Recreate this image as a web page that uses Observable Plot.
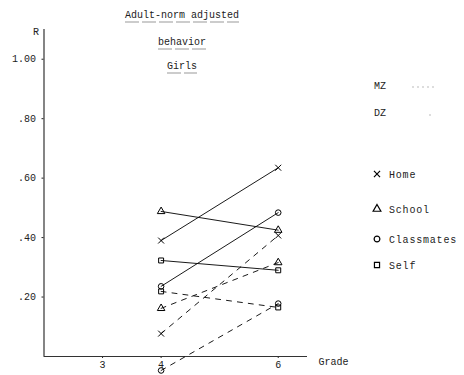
<!DOCTYPE html>
<html>
<head>
<meta charset="utf-8">
<script src="https://cdn.jsdelivr.net/npm/d3@7"></script>
<script src="https://cdn.jsdelivr.net/npm/@observablehq/plot@0.6"></script>
<style>
  html, body { margin: 0; padding: 0; background: #fff; }
  #wrap { position: relative; width: 464px; height: 375px; }
  #overlay { position: absolute; left: 0; top: 0; pointer-events: none; }
</style>
</head>
<body>
<div id="wrap"></div>
<script>
// ---- data ----
const categories = ["Home", "School", "Classmates", "Self"];
const grades = [4, 6];
const mzGrade4 = [0.39, 0.488, 0.236, 0.323];
const mzGrade6 = [0.635, 0.425, 0.484, 0.29];
const dzGrade4 = [0.077, 0.162, -0.047, 0.219];
const dzGrade6 = [0.407, 0.316, 0.178, 0.165];
const yTicks = [0.2, 0.4, 0.6, 0.8, 1.0];
const xTicks = [3, 4, 6];
const titleLines = ["Adult-norm adjusted", "behavior", "Girls"];
const twinLabels = ["MZ", "DZ"];
const symbolNames = ["times", "triangle", "circle", "square"];

// ---- table ----
const rows = [];
categories.forEach((c, i) => {
  rows.push({category: c, twin: "MZ", grade: grades[0], r: mzGrade4[i]});
  rows.push({category: c, twin: "MZ", grade: grades[1], r: mzGrade6[i]});
  rows.push({category: c, twin: "DZ", grade: grades[0], r: dzGrade4[i]});
  rows.push({category: c, twin: "DZ", grade: grades[1], r: dzGrade6[i]});
});

const font = "'Liberation Mono', 'DejaVu Sans Mono', monospace";

const chart = Plot.plot({
  width: 464,
  height: 375,
  marginLeft: 43.5,
  marginRight: 157,
  marginTop: 29,
  marginBottom: 19,
  x: {domain: [2, 6.5]},
  y: {domain: [0, 1.1]},
  symbol: {domain: categories, range: symbolNames},
  style: {fontFamily: font, fontSize: "10px", color: "#222", background: "white"},
  marks: [
    Plot.axisY({ticks: yTicks, tickFormat: d => d3.format(".2f")(d).replace(/^0/, ""), tickSize: 2, tickPadding: 6, label: null}),
    Plot.axisX({ticks: xTicks, tickFormat: d => String(d), tickSize: 2, tickPadding: 2, label: null}),
    Plot.ruleX([2], {stroke: "#333", strokeWidth: 1.2}),
    Plot.ruleY([0], {stroke: "#333", strokeWidth: 1.2}),
    Plot.line(rows.filter(d => d.twin === "MZ"), {x: "grade", y: "r", z: "category", stroke: "black", strokeWidth: 0.9}),
    Plot.line(rows.filter(d => d.twin === "DZ"), {x: "grade", y: "r", z: "category", stroke: "black", strokeWidth: 0.9, strokeDasharray: "5,6"}),
    Plot.dot(rows, {x: "grade", y: "r", symbol: "category", r: 2.8, stroke: "black", fill: "none", strokeWidth: 1}),
    Plot.text(["R"], {text: d => d, frameAnchor: "top-left", dx: -11, dy: -2}),
    Plot.text(["Grade"], {text: d => d, frameAnchor: "bottom-right", textAnchor: "start", dx: 11, dy: 8})
  ]
});

const wrap = document.getElementById("wrap");
wrap.appendChild(chart);

// ---- overlay: title and legend ----
const svg = d3.select(wrap).append("svg")
  .attr("id", "overlay").attr("width", 464).attr("height", 375)
  .style("font-family", font).style("font-size", "10px");

const titleY = [18, 45, 69];
titleLines.forEach((t, i) => {
  const txt = svg.append("text").attr("x", 182).attr("y", titleY[i])
    .attr("text-anchor", "middle").attr("fill", "#222").text(t);
  const w = txt.node().getComputedTextLength();
  svg.append("line")
    .attr("x1", 182 - w / 2).attr("x2", 182 + w / 2)
    .attr("y1", titleY[i] + 4).attr("y2", titleY[i] + 4)
    .attr("stroke", "#999").attr("stroke-width", 1.2)
    .attr("stroke-dasharray", "14,3");
});

// twin legend
const twinY = [89, 116];
twinLabels.forEach((t, i) => {
  svg.append("text").attr("x", 374).attr("y", twinY[i]).attr("fill", "#222").text(t);
});
svg.append("line").attr("x1", 412).attr("x2", 437).attr("y1", 87).attr("y2", 87)
  .attr("stroke", "#bbb").attr("stroke-width", 1).attr("stroke-dasharray", "2,3");
svg.append("line").attr("x1", 429).attr("x2", 431).attr("y1", 115).attr("y2", 115)
  .attr("stroke", "#bbb").attr("stroke-width", 1);

// category legend
const legY = [174, 209, 239, 265];
const symMap = {times: d3.symbolTimes, triangle: d3.symbolTriangle, circle: d3.symbolCircle, square: d3.symbolSquare};
categories.forEach((c, i) => {
  svg.append("path")
    .attr("transform", `translate(377,${legY[i]})`)
    .attr("d", d3.symbol(symMap[symbolNames[i]], 26)())
    .attr("fill", "none").attr("stroke", "black").attr("stroke-width", 1.2);
  svg.append("text").attr("x", 389).attr("y", legY[i] + 3.5).attr("fill", "#222")
    .style("letter-spacing", "0.8px").text(c);
});
</script>
</body>
</html>
